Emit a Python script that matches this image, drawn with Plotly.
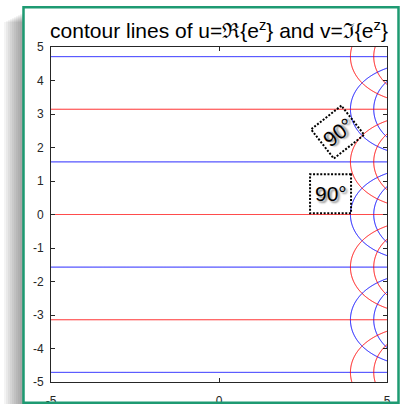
import numpy as np
import plotly.graph_objects as go

# Domain of z = x + iy and the contour levels used for u and v
x_limits = [-5, 5]
y_limits = [-5, 5]
levels = [-100, -50, 0, 50, 100]
x_ticks = [-5, 0, 5]
y_ticks = [-5, -4, -3, -2, -1, 0, 1, 2, 3, 4, 5]

# "90°" callouts marking the right-angle crossings
callout_text = ["90°", "90°"]
callout_x = [3.53, 3.32]
callout_y = [2.46, 0.62]
callout_angle = [-38, 0]

# Page geometry (pixels)
W_PX, H_PX = 405, 404
ML, MR, MT, MB = 51, 18, 47, 22
PW, PH = W_PX - ML - MR, H_PX - MT - MB


def px(xp):
    return (xp - ML) / PW


def py(yp):
    return 1 - (yp - MT) / PH


# Sample e^z on a grid (an even count keeps the zero lines between samples)
xs = np.linspace(x_limits[0], x_limits[1], 900)
ys = np.linspace(y_limits[0], y_limits[1], 700)
X, Y = np.meshgrid(xs, ys)
ez = np.exp(X + 1j * Y)
u = ez.real
v = ez.imag

contour_spec = dict(start=levels[0], end=levels[-1], size=levels[1] - levels[0],
                    coloring="none")

fig = go.Figure()
fig.add_trace(go.Contour(x=xs, y=ys, z=u, autocontour=False, contours=contour_spec,
                         line=dict(color="rgb(0,0,255)", width=1),
                         showscale=False, hoverinfo="skip"))
fig.add_trace(go.Contour(x=xs, y=ys, z=v, autocontour=False, contours=contour_spec,
                         line=dict(color="rgb(255,0,0)", width=1),
                         showscale=False, hoverinfo="skip"))

shapes = []
# soft drop shadow on the left of the window frame
for k in range(10):
    shapes.append(dict(type="rect", xref="paper", yref="paper", layer="below",
                       x0=px(4 + 2 * k), x1=px(26), y0=py(22 - k), y1=py(H_PX + 5),
                       line=dict(width=0), fillcolor="rgba(0,0,0,0.045)"))
# white window face
shapes.append(dict(type="rect", xref="paper", yref="paper", layer="below",
                   x0=px(23.5), x1=px(398.5), y0=py(7), y1=py(403),
                   line=dict(width=0), fillcolor="white"))
# green window frame
shapes.append(dict(type="rect", xref="paper", yref="paper", layer="above",
                   x0=px(23.5), x1=px(398.5), y0=py(7.3), y1=py(402.8),
                   line=dict(color="#1e9a72", width=2.5), fillcolor="rgba(0,0,0,0)"))

# dotted frames around the callouts (sizes in pixels around the anchor)
box_w, box_h = [38.5, 41], [37, 39]
annotations = []
for i in range(len(callout_text)):
    th = np.deg2rad(-callout_angle[i])
    ux, uy = box_w[i] / 2 * np.cos(th), box_w[i] / 2 * np.sin(th)
    vx, vy = -box_h[i] / 2 * np.sin(th), box_h[i] / 2 * np.cos(th)
    pts = [(ux + vx, uy + vy), (-ux + vx, -uy + vy), (-ux - vx, -uy - vy), (ux - vx, uy - vy)]
    path = "M " + " L ".join(f"{a:.2f},{b:.2f}" for a, b in pts) + " Z"
    shapes.append(dict(type="path", xref="x", yref="y", xsizemode="pixel", ysizemode="pixel",
                       xanchor=callout_x[i], yanchor=callout_y[i], path=path, layer="above",
                       line=dict(color="black", width=2, dash="2px,1.6px"),
                       fillcolor="rgba(255,255,255,0)"))
    annotations.append(dict(x=callout_x[i], y=callout_y[i], xref="x", yref="y",
                            text=callout_text[i], showarrow=False, textangle=callout_angle[i],
                            font=dict(family="Liberation Sans, Arial, sans-serif", size=21,
                                      color="black",
                                      shadow="2px 2px 2px rgba(0,0,0,0.45)")))

axis_common = dict(showgrid=False, zeroline=False, showline=True, linecolor="#262626",
                   linewidth=1, mirror="ticks", ticks="inside", ticklen=4,
                   tickcolor="#262626", tickwidth=1, automargin=False,
                   tickfont=dict(family="Liberation Sans, Arial, sans-serif", size=12,
                                 color="#262626"))

fig.update_layout(
    width=W_PX, height=H_PX,
    margin=dict(l=ML, r=MR, t=MT, b=MB, pad=0, autoexpand=False),
    paper_bgcolor="white", plot_bgcolor="white",
    showlegend=False,
    title=dict(text="contour lines of u=ℜ{e<sup>z</sup>} and v=ℑ{e<sup>z</sup>}",
               x=0.5, xref="paper", xanchor="center", automargin=False,
               y=1 - 31 / H_PX, yref="container", yanchor="middle",
               font=dict(family="Liberation Sans, Arial, sans-serif", size=21, color="black")),
    xaxis=dict(range=x_limits, tickmode="array", tickvals=x_ticks,
               ticktext=[str(t) for t in x_ticks], ticklabelstandoff=8, **axis_common),
    yaxis=dict(range=y_limits, tickmode="array", tickvals=y_ticks,
               ticktext=[str(t) for t in y_ticks], ticklabelstandoff=4, **axis_common),
    shapes=shapes,
    annotations=annotations,
)

fig.write_html("out.html")
